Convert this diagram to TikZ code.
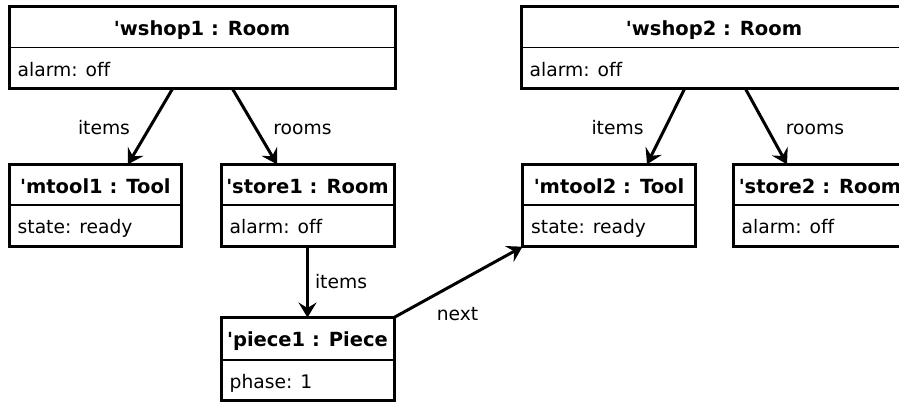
\documentclass[tikz,border=0pt]{standalone}
\usepackage{fontspec}
\setmainfont{DejaVu Sans}[Ligatures={NoCommon}]
\usetikzlibrary{arrows.meta}

\tikzset{
  objframe/.style={draw=black, line width=3pt, rectangle, inner sep=0pt, outer sep=0pt},
  sepline/.style={draw=black, line width=1.3pt},
  titletext/.style={inner sep=0pt, font=\fontsize{19.5}{22}\selectfont\bfseries},
  attrtext/.style={inner sep=0pt, font=\fontsize{18.7}{22}\selectfont},
  lbl/.style={inner sep=0pt, anchor=base, font=\fontsize{18.7}{22}\selectfont},
  assoc/.style={draw=black, line width=3pt, -{Stealth[length=15pt,width=18pt,inset=5.5pt]}},
}

\newcommand\q{\textquotesingle}

% object box: name, left, top, right, separator, bottom, title, attribute
\newcommand\objbox[8]{%
  \node[objframe, minimum width={(#4-#2)*1pt}, minimum height={(#6-#3)*1pt}]
    (#1) at ({(#2+#4)/2},{(#3+#6)/2}) {};
  \draw[sepline] (#2,#5) -- (#4,#5);
  \node[titletext, anchor=base] (#1-t) at ({(#2+#4)/2},{#3+28.7}) {#7};
  \node[attrtext, anchor=base west] (#1-a) at ({#2+8.5},{#5+28.3}) {#8};
}

\begin{document}
\begin{tikzpicture}[x=1pt, y=-1pt]
  \useasboundingbox (0,0) rectangle (899,402);
  \clip (0,0) rectangle (899,402);
  \fill[white] (0,0) rectangle (899,402);

  \objbox{wshop1}{9}{6.5}{395}{47.7}{88}{\q wshop1 : Room}{alarm: off}
  \objbox{wshop2}{521}{6.5}{907}{47.7}{88}{\q wshop2 : Room}{alarm: off}
  \objbox{mtool1}{9}{164.3}{181.7}{205}{246.7}{\q mtool1 : Tool}{state: ready}
  \objbox{store1}{221}{164.3}{394}{205}{246.7}{\q store1 : Room}{alarm: off}
  \objbox{mtool2}{522.5}{164.3}{695.5}{205}{246.7}{\q mtool2 : Tool}{state: ready}
  \objbox{store2}{733}{164.3}{907}{205}{246.7}{\q store2 : Room}{alarm: off}
  \objbox{piece1}{221}{317.5}{394}{360}{400}{\q piece1 : Piece}{phase: 1}

  % links
  \draw[assoc] ([xshift=-29pt]wshop1.south) -- ([xshift=32.6pt]mtool1.north);
  \draw[assoc] ([xshift=30pt]wshop1.south) -- ([xshift=-30.5pt]store1.north);
  \draw[assoc] ([xshift=-29pt]wshop2.south) -- ([xshift=38pt]mtool2.north);
  \draw[assoc] ([xshift=31pt]wshop2.south) -- ([xshift=-33pt]store2.north);
  \draw[assoc] (store1.south) -- (piece1.north);
  \draw[assoc] (piece1.north east) -- (mtool2.south west);

  % link labels
  \node[lbl] (l1) at (104,134.3) {items};
  \node[lbl] (l2) at (302.5,134.3) {rooms};
  \node[lbl] (l3) at (617.5,134.3) {items};
  \node[lbl] (l4) at (815,134.3) {rooms};
  \node[lbl] (l5) at (341,288.3) {items};
  \node[lbl] (l6) at (457.5,320.7) {next};
\end{tikzpicture}
\end{document}
